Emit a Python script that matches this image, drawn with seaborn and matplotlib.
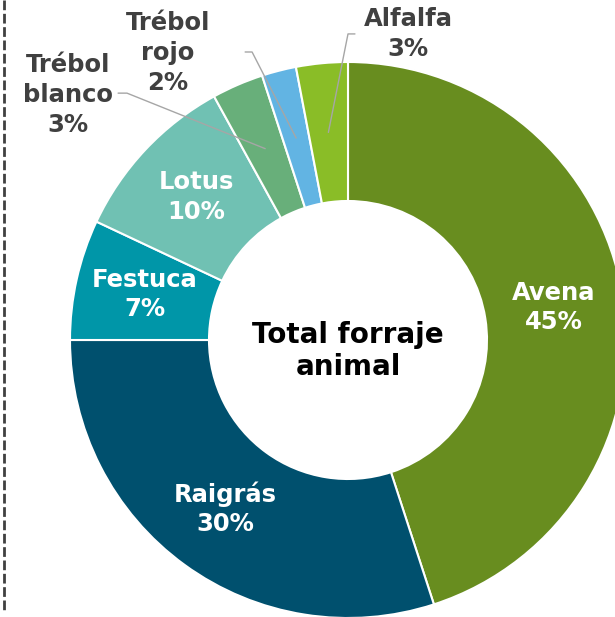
import numpy as np
import matplotlib
matplotlib.use("Agg")
import matplotlib.pyplot as plt
from matplotlib.lines import Line2D
import seaborn as sns

# Data
names = ["Avena", "Raigrás", "Festuca", "Lotus", "Trébol\nblanco", "Trébol\nrojo", "Alfalfa"]
shares = [45, 30, 7, 10, 3, 2, 3]
colors = ["#688D1F", "#00506E", "#0096A8", "#70C1B3", "#68AF7A", "#62B4E3", "#8ABD27"]
inside = [True, True, True, True, False, False, False]

# where the outside labels sit (data units, radius = 1)
outside_text = {4: (-1.007, 0.881), 5: (-0.647, 1.032), 6: (0.216, 1.101)}
outside_elbow = {4: (-0.795, 0.888, -0.827), 5: (-0.345, 1.036, -0.370), 6: (0.0, 1.101, 0.025)}

sns.set_theme(style="white")
plt.rcParams["font.family"] = ["DejaVu Sans"]

fig = plt.figure(figsize=(6.15, 6.17), dpi=100)
ax = fig.add_axes([0, 0, 1, 1])

wedges, _ = ax.pie(shares, colors=colors, startangle=90, counterclock=False,
                   radius=1, wedgeprops=dict(width=0.5, edgecolor="white", linewidth=1.5))

for i, w in enumerate(wedges):
    mid = np.deg2rad((w.theta1 + w.theta2) / 2)
    mx, my = 0.75 * np.cos(mid), 0.75 * np.sin(mid)
    label = f"{names[i]}\n{shares[i]}%"
    if inside[i]:
        ax.text(mx, my, label, ha="center", va="center", color="white",
                fontsize=17.5, fontweight="bold", linespacing=1.3)
    else:
        tx, ty = outside_text[i]
        ex, ey, hx = outside_elbow[i]
        ax.plot([mx, ex, hx], [my, ey, ey], color="#A6A6A6", lw=1)
        ax.text(tx, ty, label, ha="center", va="center", color="#404040",
                fontsize=17.5, fontweight="bold", linespacing=1.3)

ax.text(0, -0.04, "Total forraje\nanimal", ha="center", va="center", color="black",
        fontsize=20, fontweight="bold", linespacing=1.2)

ax.set_aspect("auto")
ax.set_xlim(-348 / 278, (615 - 348) / 278)
ax.set_ylim((340 - 617) / 278, 340 / 278)
ax.axis("off")

# dashed divider on the left edge
fig.add_artist(Line2D([0.007, 0.007], [1.0, 0.008], color="#404040", lw=2,
                      linestyle=(0, (3.5, 1.3))))

fig.savefig("out.png", dpi=100)
